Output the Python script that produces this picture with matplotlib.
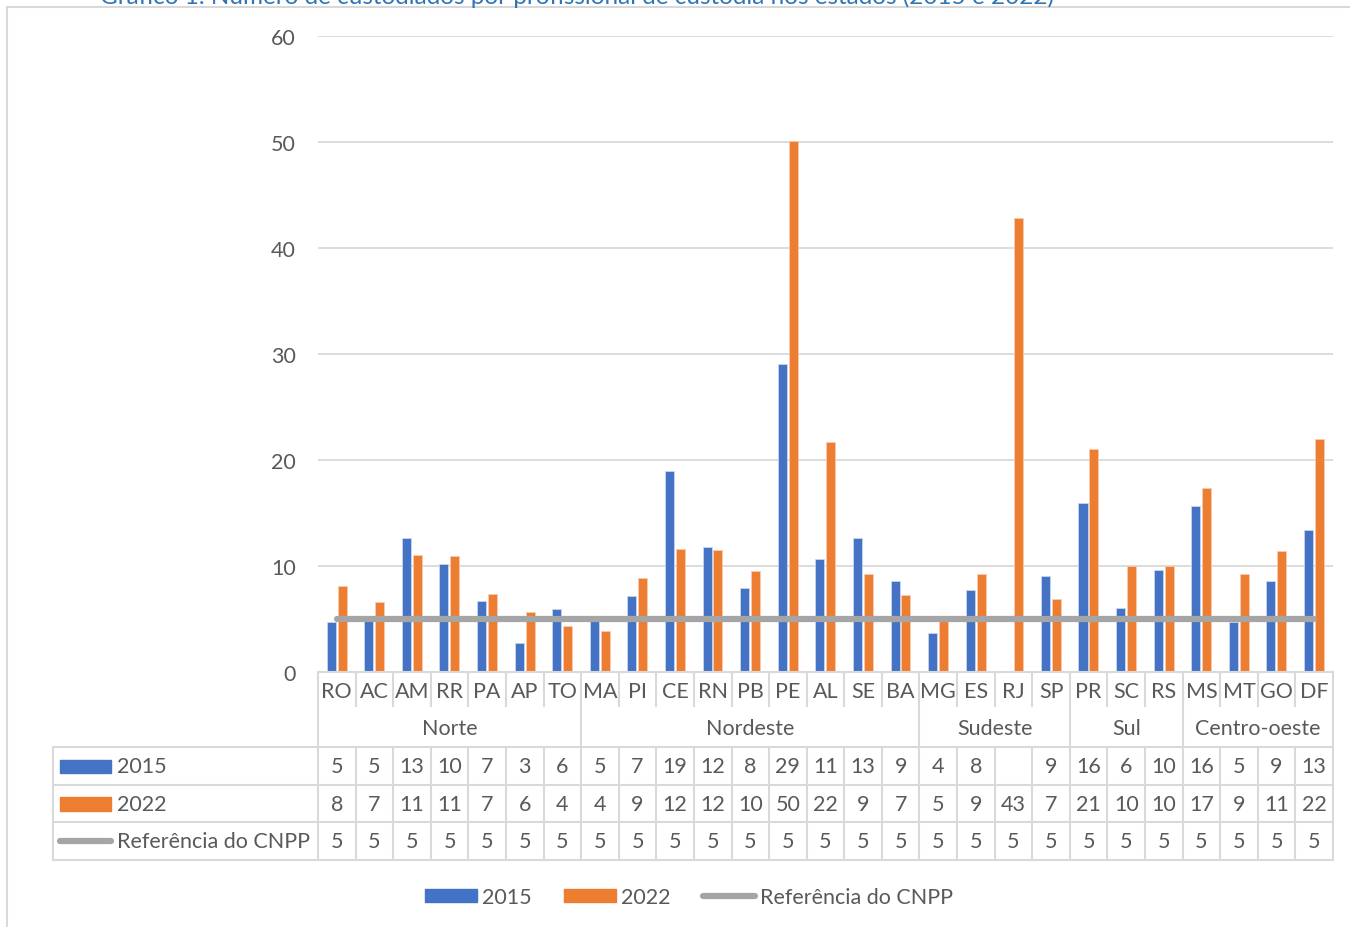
import matplotlib
matplotlib.use("Agg")
import matplotlib.pyplot as plt
from matplotlib.patches import Patch, Rectangle
from matplotlib.lines import Line2D

plt.rcParams['font.family'] = ['Lato', 'DejaVu Sans']

estados = ["RO", "AC", "AM", "RR", "PA", "AP", "TO",
           "MA", "PI", "CE", "RN", "PB", "PE", "AL", "SE", "BA",
           "MG", "ES", "RJ", "SP",
           "PR", "SC", "RS",
           "MS", "MT", "GO", "DF"]
regioes = ["Norte", "Nordeste", "Sudeste", "Sul", "Centro-oeste"]
n_por_regiao = [7, 9, 4, 3, 4]

# custodiados por profissional (RJ sem dado em 2015)
v2015 = [4.7, 4.9, 12.6, 10.2, 6.7, 2.7, 5.9,
         5.3, 7.2, 19.0, 11.8, 7.9, 29.1, 10.7, 12.6, 8.6,
         3.7, 7.7, None, 9.1,
         15.9, 6.0, 9.6,
         15.7, 4.7, 8.6, 13.4]
v2022 = [8.1, 6.6, 11.0, 10.9, 7.4, 5.7, 4.3,
         3.9, 8.9, 11.6, 11.5, 9.5, 50.1, 21.7, 9.2, 7.3,
         4.8, 9.2, 42.8, 6.9,
         21.0, 10.0, 10.0,
         17.4, 9.2, 11.4, 22.0]
ref_cnpp = [5] * len(estados)

AZUL = "#4472C4"
LARANJA = "#ED7D31"
CINZA = "#A5A5A5"
TEXTO = "#595959"
GRADE = "#D9D9D9"
fs = 15.5

W, H = 1350, 928
fig = plt.figure(figsize=(W / 100, H / 100), dpi=100)


def fbox(x0, y0, x1, y1):
    # pixel box (top-left origin) -> figure fraction
    return [x0 / W, 1 - y1 / H, (x1 - x0) / W, (y1 - y0) / H]


# moldura e título (cortado no topo)
fig.add_artist(Line2D([7 / W, 7 / W], [0, 1 - 8 / H], color=GRADE, lw=1.5))
fig.add_artist(Line2D([7 / W, 1], [1 - 8 / H, 1 - 8 / H], color=GRADE, lw=1.5))
fig.text(100 / W, 1 - 4 / H,
         "Gráfico 1. Número de custodiados por profissional de custódia nos estados (2015 e 2022)",
         color="#2E75B6", fontsize=17.5, ha="left", va="baseline")

ax = fig.add_axes(fbox(318, 37, 1333, 673))
x = list(range(len(estados)))
bw = 0.24
xs15 = [i - 0.15 for i, v in zip(x, v2015) if v is not None]
ys15 = [v for v in v2015 if v is not None]
ax.bar(xs15, ys15, width=bw, color=AZUL, edgecolor="#C9D6EE", linewidth=0.6, zorder=2)
ax.bar([i + 0.14 for i in x], v2022, width=bw, color=LARANJA, edgecolor="#F8CBAD",
       linewidth=0.6, zorder=2)
ax.plot(x, ref_cnpp, color=CINZA, lw=4.5, solid_capstyle="round", zorder=3)

ax.set_xlim(-0.5, len(estados) - 0.5)
ax.set_ylim(0, 60)
ax.set_yticks(range(0, 61, 10))
ax.set_xticks([])
ax.yaxis.grid(True, color=GRADE, lw=1.3)
ax.set_axisbelow(True)
for s in ["top", "right", "left"]:
    ax.spines[s].set_visible(False)
ax.spines["bottom"].set_color(GRADE)
ax.spines["bottom"].set_linewidth(1.5)
ax.tick_params(axis="y", length=0, pad=16, labelsize=fs, labelcolor=TEXTO)

# tabela de dados abaixo do gráfico
tb = fig.add_axes(fbox(318, 673, 1333, 861))
tb.set_xlim(-0.5, len(estados) - 0.5)
tb.set_ylim(5, 0)
tb.axis("off")
cw = (1333 - 318) / len(estados)
esq = -0.5 - (318 - 53) / cw
dir_ = len(estados) - 0.5
kw = dict(color=GRADE, lw=1.5, clip_on=False)

for yy in [2, 3, 4, 5]:
    tb.plot([esq, dir_], [yy, yy], **kw)
tb.plot([esq, esq], [2, 5], **kw)
tb.plot([-0.5, -0.5], [0, 5], **kw)
tb.plot([dir_, dir_], [0, 5], **kw)

limites = []
acc = 0
for n in n_por_regiao:
    acc += n
    limites.append(acc)
for i in range(1, len(estados)):
    xb = i - 0.5
    tb.plot([xb, xb], [2, 5], **kw)
    if i in limites:
        tb.plot([xb, xb], [0, 2], **kw)
    else:
        tb.plot([xb, xb], [0, 0.9], **kw)

for i, e in enumerate(estados):
    tb.text(i, 0.5, e, ha="center", va="center", fontsize=fs, color=TEXTO)
ini = 0
for r, n in zip(regioes, n_por_regiao):
    tb.text(ini + (n - 1) / 2, 1.5, r, ha="center", va="center", fontsize=fs, color=TEXTO)
    ini += n

for row, serie in [(2.5, v2015), (3.5, v2022), (4.5, ref_cnpp)]:
    for i, v in enumerate(serie):
        if v is None:
            continue
        tb.text(i, row, f"{v:.0f}", ha="center", va="center", fontsize=fs, color=TEXTO)

# chaves da legenda na coluna da tabela
kx0 = esq + (60 - 53) / cw
kx1 = esq + (111 - 53) / cw
tb.add_patch(Rectangle((kx0, 2.33), kx1 - kx0, 0.36, color=AZUL, clip_on=False))
tb.add_patch(Rectangle((kx0, 3.33), kx1 - kx0, 0.36, color=LARANJA, clip_on=False))
tb.plot([kx0, kx1], [4.5, 4.5], color=CINZA, lw=4.5, solid_capstyle="round", clip_on=False)
tx = esq + (117 - 53) / cw
for row, lab in [(2.5, "2015"), (3.5, "2022"), (4.5, "Referência do CNPP")]:
    tb.text(tx, row, lab, ha="left", va="center", fontsize=fs, color=TEXTO)

handles = [Patch(color=AZUL, label="2015"),
           Patch(color=LARANJA, label="2022"),
           Line2D([], [], color=CINZA, lw=4.5, solid_capstyle="round", label="Referência do CNPP")]
fig.legend(handles=handles, loc="center", bbox_to_anchor=(689 / W, 1 - 898 / H), ncol=3,
           frameon=False, fontsize=fs, labelcolor=TEXTO, handlelength=2.42, handleheight=0.6,
           handletextpad=0.23, columnspacing=1.5)

fig.savefig("out.png", dpi=100)
